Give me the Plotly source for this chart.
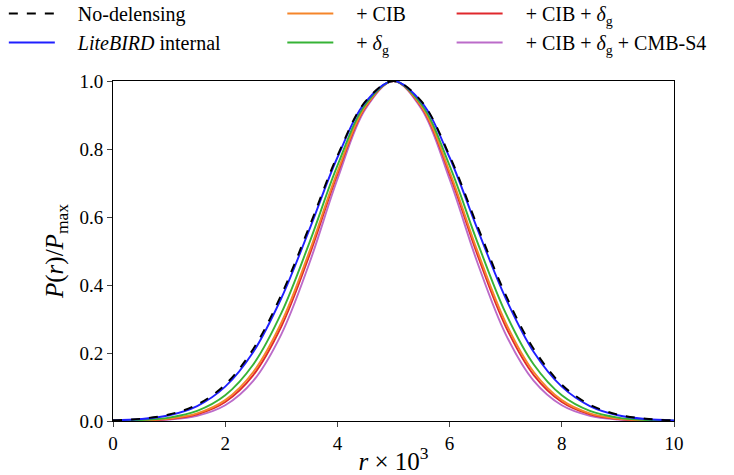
import plotly.graph_objects as go

r_vals = [0.0, 0.5, 1.0, 1.5, 2.0, 2.5, 3.0, 3.5, 4.0, 4.5, 5.0,
          5.5, 6.0, 6.5, 7.0, 7.5, 8.0, 8.5, 9.0, 9.5, 10.0]

p_nodelens = [0.0020, 0.0066, 0.019, 0.048, 0.107, 0.212, 0.371, 0.572, 0.780, 0.940, 1.0,
              0.940, 0.780, 0.572, 0.371, 0.212, 0.107, 0.048, 0.019, 0.0066, 0.0020]
p_litebird = [0.0017, 0.0057, 0.0169, 0.044, 0.101, 0.203, 0.361, 0.563, 0.775, 0.938, 1.0,
              0.938, 0.775, 0.563, 0.361, 0.203, 0.101, 0.044, 0.0169, 0.0057, 0.0017]
p_dg = [0.0008, 0.0030, 0.0101, 0.0297, 0.0756, 0.166, 0.317, 0.524, 0.751, 0.931, 1.0,
        0.931, 0.751, 0.524, 0.317, 0.166, 0.0756, 0.0297, 0.0101, 0.0030, 0.0008]
p_cib = [0.0004, 0.0019, 0.0070, 0.0224, 0.0614, 0.144, 0.289, 0.498, 0.733, 0.925, 1.0,
         0.925, 0.733, 0.498, 0.289, 0.144, 0.0614, 0.0224, 0.0070, 0.0019, 0.0004]
p_cib_dg = [0.0003, 0.0015, 0.0060, 0.0198, 0.0561, 0.135, 0.278, 0.487, 0.726, 0.923, 1.0,
            0.923, 0.726, 0.487, 0.278, 0.135, 0.0561, 0.0198, 0.0060, 0.0015, 0.0003]
p_cib_dg_s4 = [0.0002, 0.0010, 0.0042, 0.0152, 0.0462, 0.118, 0.255, 0.464, 0.711, 0.918, 1.0,
               0.918, 0.711, 0.464, 0.255, 0.118, 0.0462, 0.0152, 0.0042, 0.0010, 0.0002]

x_ticks = [0, 2, 4, 6, 8, 10]
y_ticks = [0.0, 0.2, 0.4, 0.6, 0.8, 1.0]
y_tick_text = ["0.0", "0.2", "0.4", "0.6", "0.8", "1.0"]

FONT = "Liberation Serif, DejaVu Serif, serif"
GAP = "\u2002\u2009\u2009"

# draw order: bottom first
series = [
    (p_cib_dg_s4, "+ CIB + <i>δ</i><sub>g</sub> + CMB-S4", "#bb6bc9", "solid", "legend3", 2),
    (p_cib_dg, "+ CIB + <i>δ</i><sub>g</sub>", "#e0282c", "solid", "legend3", 1),
    (p_cib, "+ CIB", "#f5852a", "solid", "legend2", 1),
    (p_dg, "+ <i>δ</i><sub>g</sub>", "#36b336", "solid", "legend2", 2),
    (p_litebird, "<i>LiteBIRD</i> internal", "#1f1fff", "solid", "legend", 2),
    (p_nodelens, "No-delensing", "black", "dash", "legend", 1),
]

fig = go.Figure()
for ys, name, color, dash, leg, rank in series:
    fig.add_trace(go.Scatter(
        x=r_vals, y=ys, mode="lines", name=GAP + name,
        line=dict(color=color, width=1.9, dash=dash, shape="spline"),
        legend=leg, legendrank=rank, legendgroup=name,
    ))

legend_common = dict(
    orientation="v", yanchor="top", y=1.2557, xanchor="left",
    xref="paper", yref="paper",
    bgcolor="rgba(0,0,0,0)",
    font=dict(family=FONT, size=20, color="black"),
    tracegroupgap=0, itemwidth=46,
)

fig.update_layout(
    width=734, height=475,
    margin=dict(l=113, r=60, t=81, b=54, autoexpand=False),
    paper_bgcolor="white", plot_bgcolor="white",
    font=dict(family=FONT, size=19, color="black"),
    legend=dict(legend_common, x=-0.1946),
    legend2=dict(legend_common, x=0.3018),
    legend3=dict(legend_common, x=0.6036),
    xaxis=dict(
        range=[0, 10], tickvals=x_ticks, ticks="outside", ticklen=5,
        showline=True, linecolor="black", linewidth=1, mirror=True,
        showgrid=False, zeroline=False,
        tickfont=dict(family=FONT, size=19),
        title=dict(text="<i>r</i> × 10<sup>3</sup>", font=dict(family=FONT, size=25), standoff=5),
    ),
    yaxis=dict(
        range=[0, 1], tickvals=y_ticks, ticktext=y_tick_text, ticks="outside", ticklen=5,
        showline=True, linecolor="black", linewidth=1, mirror=True,
        showgrid=False, zeroline=False,
        tickfont=dict(family=FONT, size=19),
        title=dict(text="<i>P</i>(<i>r</i>)/<i>P</i><sub>max</sub>", font=dict(family=FONT, size=25), standoff=8),
    ),
)

fig.write_html("out.html", config={"displayModeBar": False},
               post_script="document.body.style.margin='0';")
